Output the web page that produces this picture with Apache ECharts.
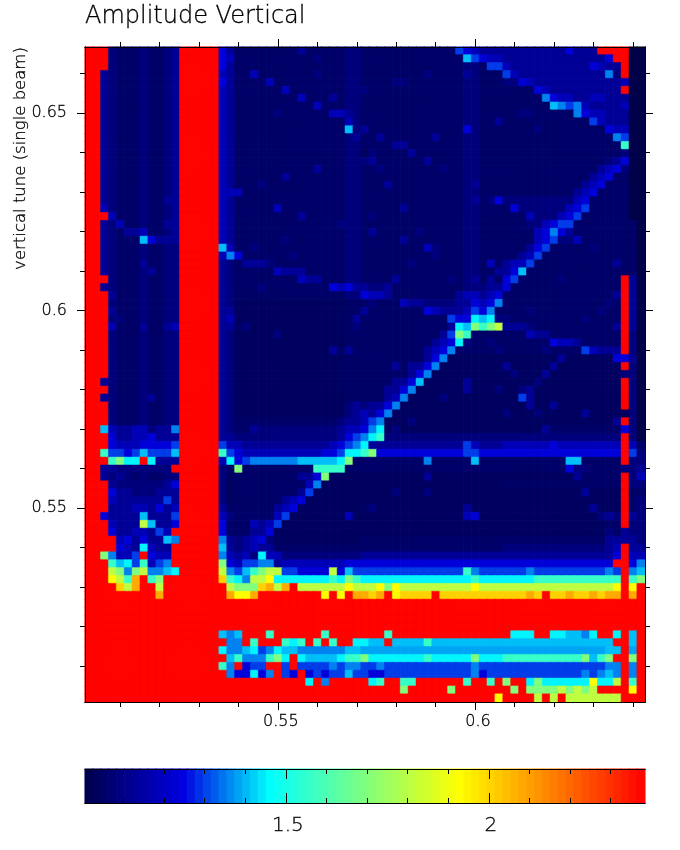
<!DOCTYPE html>
<html><head><meta charset="utf-8">
<style>html,body{margin:0;background:#fff}#c{width:680px;height:850px}</style>
<script src="https://cdn.jsdelivr.net/npm/echarts@6/dist/echarts.min.js"></script>
</head><body><div id="c"></div>
<script>
// Each character is one cell; groups only aid reading.
const levelChars  = ['z','0','1','2','3','4','5','6','7','m','8','9','a','b','c','d','e','f','r'];
const levelValues = [1.005,1.04,1.053,1.086,1.127,1.18,1.233,1.298,1.355,1.385,1.406,1.452,1.561,1.698,1.808,1.927,2.008,2.08,2.38];
const rows = [
"rrr 211121123 rrrrr 531111111131111122 111111111111654333 333333335333rrrrzz",
"rrr 211121123 rrrrr 541111111111211122 111111111111186544 33333333333335rrzz",
"rrr 211121123 rrrrr 531111111111111122 111111111111122166 433333333335433rzz",
"rr3 211121123 rrrrr 431141111111211122 111111112111132111 6433333333333 72rzz",
"rr3 211121123 rrrrr 531111411111111122 111122111111122111 22543333333333 34zz",
"rr3 211121123 rrrrr 431111114111111122 211111111111122111 111154333333333rzz",
"rr3 211121123 rrrrr 431111111141113122 111111111111122111 1111175443344333zz",
"rr3 211121123 rrrrr 431111111111411122 111111111111122111 1111118767433334zz",
"rr3 211121123 rrrrr 431111121111114432 111111111111122111 1122111117544333zz",
"rr3 211121123 rrrrr 431111111111111142 111111111111122113 1111111111164333zz",
"rr3 211121123 rrrrr 431111111111111182 311111111111152111 1111211111111544zz",
"rr3 211121123 rrrrr 431111111111111123 113111111311122111 1111111111111176zz",
"rr3 211121123 rrrrr 431111111111111122 111133111111122111 111111111111111azz",
"rr3 211121123 rrrrr 431111111111111122 021111311111122111 1111111111111112zz",
"rr3 211121123 rrrrr 431111111111111122 231111113111122111 1111111111111235zz",
"rr3 211121123 rrrrr 431111111111311122 112111111121122111 1111111111113452zz",
"rr3 211121123 rrrrr 431111113111111122 111111111111122111 1111111111134511zz",
"rr3 211121123 rrrrr 431112111111111122 111311111111123111 1111111111345111zz",
"rr3 211121123 rrrrr 444111111111111122 111111111111122111 1111111113451111zz",
"rr3 211121133 rrrrr 431111111111111122 111111111111123125 2222222224511111zz",
"rr4 211121123 rrrrr 431111141111111122 111113111111122111 1522222245611111zz",
"rrr 411121123 rrrrr 431111111131111122 121111111111122111 1114222456111111zz",
"rr3 241121133 rrrrr 431111111111111222 111111111111122111 1112245661111111 1z",
"rr3 213341123 rrrrr 431111111111111122 131111121111122111 1111457531111111 1z",
"rr3 211185333 rrrrr 431111112111111122 111113111111122111 1111456224111111 1z",
"rr3 211121122 rrrrr 841121111111111122 111111114211122111 1113561111121111 1z",
"rr3 211121122 rrrrr 475111111211111122 111111111211122111 1134611111111111 1z",
"rr3 211131122 rrrrr 321333211111111122 111111211111122141 3446111111111131 1z",
"rr3 211123122 rrrrr 321111143331111122 111111111111122113 3581111111111111 1z",
"rrr 211121122 rrrrr 321111111143311122 111131111112123131 561111121111111r3z",
"rr3 211121122 rrrrr 321112111111115453 322311111111122233 511111111111111r3z",
"rrr 311121122 rrrrr 321111111111111122 544311111111344345 111111111111113r3z",
"rrr 211121122 rrrrr 320000000000000011 121114332222335457 111111111111121r3z",
"rrr 311121122 rrrrr 330000000000000011 311111115433346571 111211111111211r3z",
"rrr 221121122 rrrrr 340000000000000013 111111111116559892 211111111121111r3z",
"rrr 411131134 rrrrr 331200000000000012 11111111111398babc 333211111111113r3z",
"rrr 211121122 rrrrr 320000020000000011 111111111136ba1111 111433111111111r2z",
"rrr 211121122 rrrrr 320000000000000011 111111111345921121 111111544311111r2z",
"rrr 211121122 rrrrr 320000000000003131 111111113457111112 111112111164333r2z",
"rrr 211121122 rrrrr 320000000000000011 111111113570000000 00000003000000553z",
"rrr 211121122 rrrrr 320000000000000011 111131335700000000 300000300000000r2z",
"rrr 211121122 rrrrr 320000000000000011 111111357000000000 02000300000000022z",
"rr3 211121122 rrrrr 320000000000000011 111133580000030000 000020000000000r2z",
"rrr 211121122 rrrrr 320000000000000011 111335700000030002 002300000000000r2z",
"rr3 211123122 rrrrr 320000000000000011 111347000020000000 006300000000000r2z",
"rrr 211121122 rrrrr 320000000000000023 233570000000000000 000300300000000r2z",
"rrr 211121122 rrrrr 320000000000000023 435700000000000000 20002000003000002z",
"rrr 211121122 rrrrr 321111111111111233 467000200000000000 000000000000003r2z",
"rr8 433442337 rrrrr 321132222222222344 579020000000000000 000003111111111 52z",
"rrr 533445333 rrrrr 332222222222222356 79a222222222222222 222222222222222r2z",
"rrr 544455556 rrrrr 644333333333334567 933333333333364333 444444544444444r41",
"rra 665686668 rrrrr a65444444444455699 ab5555555555566555 555555555555555r62",
"rrr ab99r9333 rrrrr 495677777788888 9b1 111111117111118111 111111118811111r22",
"rr3 32222222r rrrrr 21b111111111aaaa11 111111111111111111 111111115221111223",
"rr3 232121122 rrrrr 2011111111335b0000 000000003000000000 000000000311111r24",
"rrr 322222235 rrrrr 201111111114700000 000000000000000000 111111111111111r22",
"rrr 533222333 rrrrr 201111111136000000 000020002000000000 000000000030000r11",
"rrr 433333363 rrrrr 201111113450000000 000000000000000000 000000000000000r12",
"rrr 333443534 rrrrr 311111134500000000 120000000000030000 000000000003000r12",
"rr5 333383336 rrrrr 421111146000000040 000000000000045000 000000000000232r32",
"rrr 4333c8335 rrrrr 511143460000000000 000000000000000000 000000000000011r22",
"rrr 53344364r rrrrr 511133500000000000 000000000000000000 000000000000021322",
"rrr r45353387 rrrrr 732345200000000000 111111111111111111 111111111111133332",
"rrr r5439433r rrrrr 832343311111111111 111111111111111111 2222222222222 34r33",
"rrb 7446r544r rrrrr 743429442222222222 333333333333333333 33333333333333 5r44",
"rrr a896a467r rrrrr b54667734444444455 555555555555555555 55555555555555rr57",
"rrr cb7bc7789 rrrrr c768abcc665555c586 6666666666666a7666 666766666666676r78",
"rrr dcafrabrr rrrrr ea97ccd9999999a9ba 99999999999999a999 9999aaaaaaaaaaarab",
"rrr recfrrcrr rrrrr rcbbbefcfrccccccdc ccdbdcccccccccdccc ccccccccccccccdrdr",
"rrr rrrrrrfrr rrrrr rfddfrrrrrrrrdrdrf fefrdeeeereeeeeeee eeefereefeefeffrfr",
"rrr rrrrrrrrr rrrrr rrrrrrrrrrrrrrrrrr rrrrrrrrrrrrrrrrrr rrrrrrrrrrrrrrrrrr",
"rrr rrrrrrrrr rrrrr rrrrrrrrrrrrrrrrrr rrrrrrrrrrrrrrrrrr rrrrrrrrrrrrrrrrrr",
"rrr rrrrrrrrr rrrrr rrrrrrrrrrrrrrrrrr rrrrrrrrrrrrrrrrrr rrrrrrrrrrrrrrrrrr",
"rrr rrrrrrrrr rrrrr rrrrrrrrrrrrrrrrrr rrrrrrrrrrrrrrrrrr rrrrrrrrrrrrrrrrrr",
"rrr rrrrrrrrr rrrrr 878rrrarrrrrrarrrr rrrarrrrrrrrrrrrrr r999rr998879rr9r8r",
"rrr rrrrrrrrr rrrrr r77rarrra9arararr9 988r8888a888888888 88888888888888rr8r",
"rrr rrrrrrrrr rrrrr 977896798877777788 mmmmmmmmmmmmmmmmmm mmmmmmmmmmmmm88rmr",
"rrr rrrrrrrrr rrrrr r8a777ab9r988889aa b9999999a99999b999 aaaaaaaaaab8abrrbr",
"rrr rrrrrrrrr rrrrr a7r566rr6r66667677 667666666666667666 666666666666677r7r",
"rrr rrrrrrrrr rrrrr r755957r65r5656686 655666666666667566 666666666676787r7r",
"rrr rrrrrrrrr rrrrr rrrrrrrrrrr9r7rrrr r9arraarrrrrrarrar brr9b999999d99crar",
"rrr rrrrrrrrr rrrrr rrrrrrrrrrrrrrrrrr rrrrrbrrrrrbrrrrrr rbrbbbbcbcbcrrrrdr",
"rrr rrrrrrrrr rrrrr rrrrrrrrrrrrrrrrrr rrrrrrrrrrrrrrrrrd rrrrcrcrcccccccrrr"
];
const barValues = [1.015,1.034,1.054,1.073,1.092,1.112,1.131,1.151,1.170,1.190,1.209,1.228,1.248,1.267,1.287,1.306,1.325,1.345,1.364,1.384,1.403,1.422,1.442,1.461,1.481,1.500,1.519,1.539,1.558,1.578,1.597,1.616,1.636,1.655,1.675,1.694,1.713,1.733,1.752,1.772,1.791,1.810,1.830,1.849,1.869,1.888,1.907,1.927,1.946,1.966,1.985,2.004,2.024,2.043,2.063,2.082,2.101,2.121,2.140,2.160,2.179,2.198,2.218,2.237,2.257,2.276,2.295,2.315,2.334,2.354,2.373];
const xMajor = [0.55,0.6];
const xMinor = [0.51,0.52,0.53,0.54,0.56,0.57,0.58,0.59,0.61,0.62,0.63,0.64];
const yMajor = [0.55,0.6,0.65];
const yMinor = [0.51,0.52,0.53,0.54,0.56,0.57,0.58,0.59,0.61,0.62,0.63,0.64,0.66];
const barMajor = [1.5,2];
const barMinor = [1.1,1.2,1.3,1.4,1.6,1.7,1.8,1.9,2.1,2.2,2.3];
const xRange = [0.50108,0.6431], yRange = [0.50089,0.66671], barRange = [1.005,2.385];

const FONT = '"DejaVu Sans"';
const INK = {fontFamily:FONT,fontWeight:200,color:'#000',textBorderColor:'#000',textBorderWidth:0.3};
const colorStops = [[0,[0,0,75]],[0.176,[0,0,225]],[0.33,[0,255,255]],[0.668,[255,255,0]],[1,[255,0,0]]];
function colorAt(f){
  f=Math.max(0,Math.min(1,f));
  let k=0;
  while(k<colorStops.length-2&&f>colorStops[k+1][0])k++;
  const a=colorStops[k],b=colorStops[k+1],t=(f-a[0])/(b[0]-a[0]);
  return 'rgb('+a[1].map((v,j)=>Math.round(v+(b[1][j]-v)*t)).join(',')+')';
}
function ramp(n){
  const out=[];
  for(let i=0;i<n;i++)out.push(colorAt(i/(n-1)));
  return out;
}
// Every cell gets a thin outline in its own colour, which closes the antialiased
// seams between rectangles of fractional size.
function cell(x,y,v){
  const col=colorAt((v-barRange[0])/(barRange[1]-barRange[0]));
  return {value:[x,y,v],itemStyle:{borderColor:col,borderWidth:0.5}};
}
const cells=[];
rows.forEach((raw,r)=>{
  const s=raw.replace(/ /g,'').padEnd(71,'r').slice(0,71);
  for(let c=0;c<71;c++){
    cells.push(cell(c,r,levelValues[levelChars.indexOf(s[c])]));
  }
});
const nRows=rows.length;
const colNames=Array.from({length:71},(_,i)=>i);
const rowNames=Array.from({length:nRows},(_,i)=>i);
const barNames=barValues.map((_,i)=>i);
const xAxes=[
 {type:'category',gridIndex:0,data:colNames,show:false},
 {type:'category',gridIndex:1,data:barNames,show:false}
];
const yAxes=[
 {type:'category',gridIndex:0,data:rowNames,show:false,inverse:true},
 {type:'category',gridIndex:1,data:['a'],show:false}
];
function tickAxis(gridIndex,position,range,vals,len,inside,label){
  return {type:'value',gridIndex,position,min:range[0],max:range[1],z:10,
    splitLine:{show:false},
    axisLine:{show:true,onZero:false,lineStyle:{color:'#000',width:1}},
    axisTick:{show:true,customValues:vals,length:len,inside:!!inside,lineStyle:{color:'#000',width:1}},
    axisLabel:label?Object.assign({show:true,customValues:vals,fontSize:16,hideOverlap:false,showMinLabel:true,showMaxLabel:true},INK,label):{show:false}};
}
xAxes.push(
 tickAxis(0,'bottom',xRange,xMajor,8,false,{margin:12,padding:[0,0,0,6]}),
 tickAxis(0,'bottom',xRange,xMinor,5),
 tickAxis(0,'top',xRange,xMajor,8),
 tickAxis(0,'top',xRange,xMinor,5),
 tickAxis(1,'bottom',barRange,barMajor,10,true,{margin:13,fontSize:20,padding:[0,0,0,4]}),
 tickAxis(1,'bottom',barRange,barMinor,5,true),
 tickAxis(1,'top',barRange,barMajor,10,true),
 tickAxis(1,'top',barRange,barMinor,5,true)
);
yAxes.push(
 tickAxis(0,'left',yRange,yMajor,8,false,{margin:18}),
 tickAxis(0,'left',yRange,yMinor,5),
 tickAxis(0,'right',yRange,yMajor,8),
 tickAxis(0,'right',yRange,yMinor,5)
);
const chart=echarts.init(document.getElementById('c'),null,{renderer:'canvas'});
chart.setOption({
 animation:false,
 backgroundColor:'#fff',
 title:{text:'Amplitude Vertical',left:80,top:0,textStyle:Object.assign({},INK,{fontSize:24})},
 grid:[{left:85,top:47,width:560,height:655},{left:85,top:769,width:560,height:34}],
 xAxis:xAxes,yAxis:yAxes,
 visualMap:{show:false,min:barRange[0],max:barRange[1],seriesIndex:[0,1],inRange:{color:ramp(200)}},
 graphic:[{type:'text',rotation:Math.PI/2,x:21,y:158.5,style:{text:'vertical tune (single beam)',fontFamily:FONT,fontWeight:200,fontSize:16.5,fill:'#000',stroke:'#000',lineWidth:0.3,textAlign:'center',textVerticalAlign:'middle'}}],
 series:[
  {type:'heatmap',xAxisIndex:0,yAxisIndex:0,data:cells,progressive:0,emphasis:{disabled:true}},
  {type:'heatmap',xAxisIndex:1,yAxisIndex:1,data:barValues.map((v,i)=>cell(i,0,v)),progressive:0,emphasis:{disabled:true}}
 ]
});
</script></body></html>
